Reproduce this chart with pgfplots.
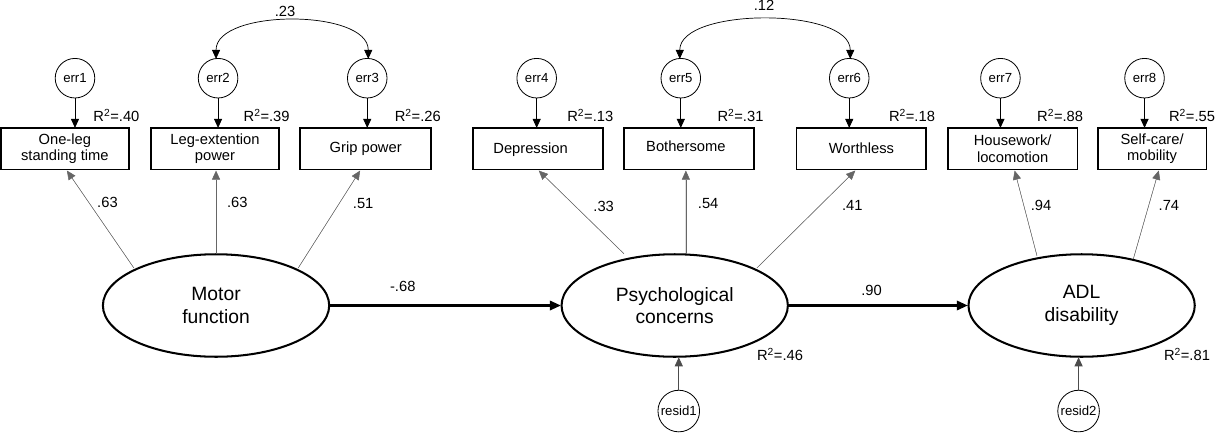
\documentclass[border=0pt]{standalone}
\usepackage{fontspec}
\setmainfont{Liberation Sans}
\usepackage{pgfplots}
\pgfplotsset{compat=1.18}
\usetikzlibrary{arrows.meta,shapes.geometric}
\tikzset{
  tip/.style={-{Triangle[length=9bp,width=8bp]}},
  box/.style={draw, line width=1.8bp, minimum height=41bp, inner sep=0pt, align=center, font=\fontsize{14.5bp}{16bp}\selectfont},
  lat/.style={draw, ellipse, line width=2bp, minimum width=223bp, minimum height=101bp, inner sep=0pt, align=center, font=\fontsize{19bp}{22bp}\selectfont},
  err/.style={draw, circle, line width=0.8bp, minimum size=39bp, inner sep=0pt, font=\fontsize{13bp}{14bp}\selectfont},
  lab/.style={font=\fontsize{14.5bp}{16bp}\selectfont, inner sep=0pt},
}
\newcommand{\Rsq}[1]{R\textsuperscript{2}=.#1}
\begin{document}
\begin{tikzpicture}
\begin{axis}[scale only axis, width=1215bp, height=437bp,
  xmin=0, xmax=1215, ymin=0, ymax=437, y dir=reverse, hide axis, clip=false]

% observed boxes
\node[box, minimum width=126bp] at (axis cs:75,157.5) {One-leg\\standing time};
\node[box, minimum width=126bp] at (axis cs:223,157.5) {Leg-extention\\power};
\node[box, minimum width=129bp] at (axis cs:371.5,157.5) {Grip power};
\node[box, minimum width=128bp] at (axis cs:541,157.5) {};
\node[lab, anchor=base] at (axis cs:534,162) {Depression};
\node[box, minimum width=128bp] at (axis cs:690,157.5) {};
\node[lab, anchor=base] at (axis cs:687,160) {Bothersome};
\node[box, minimum width=128bp] at (axis cs:860,157.5) {Worthless};
\node[box, minimum width=128bp] at (axis cs:1009,157.5) {Housework/\\locomotion};
\node[box, minimum width=107bp] at (axis cs:1146.5,157.5) {Self-care/\\mobility};

% latent variables
\node[lat] at (axis cs:224,312) {Motor\\function};
\node[lat] at (axis cs:676,312) {Psychological\\concerns};
\node[lat] at (axis cs:1077,312) {ADL\\disability};

% error terms
\node[err] at (axis cs:85,88) {err1};
\node[err] at (axis cs:226,88) {err2};
\node[err] at (axis cs:373,88) {err3};
\node[err] at (axis cs:540,88) {err4};
\node[err] at (axis cs:682,88) {err5};
\node[err] at (axis cs:848,88) {err6};
\node[err] at (axis cs:997,88) {err7};
\node[err] at (axis cs:1139,88) {err8};
\node[err, minimum size=41bp] at (axis cs:680,416) {resid1};
\node[err, minimum size=41bp] at (axis cs:1074,416) {resid2};

% error arrows
\addplot[tip, line width=0.8bp] coordinates {(85,108) (85,137)};
\addplot[tip, line width=0.8bp] coordinates {(226,108) (226,137)};
\addplot[tip, line width=0.8bp] coordinates {(373,108) (373,137)};
\addplot[tip, line width=0.8bp] coordinates {(540,108) (540,137)};
\addplot[tip, line width=0.8bp] coordinates {(682,108) (682,137)};
\addplot[tip, line width=0.8bp] coordinates {(848,108) (848,137)};
\addplot[tip, line width=0.8bp] coordinates {(997,108) (997,137)};
\addplot[tip, line width=0.8bp] coordinates {(1139,108) (1139,137)};
\addplot[tip, line width=0.8bp, draw=black!70, fill=black] coordinates {(680,396) (680,363)};
\addplot[tip, line width=0.8bp, draw=black!70, fill=black] coordinates {(1074,396) (1074,363)};

% loadings
\addplot[tip, line width=0.5bp, draw=black!60, fill=black] coordinates {(143,275) (77,179)};
\addplot[tip, line width=0.5bp, draw=black!60, fill=black] coordinates {(224,261) (224,179)};
\addplot[tip, line width=0.5bp, draw=black!60, fill=black] coordinates {(305,275) (366,179)};
\addplot[tip, line width=0.5bp, draw=black!60, fill=black] coordinates {(626,261) (542,179)};
\addplot[tip, line width=0.5bp, draw=black!60, fill=black] coordinates {(687,261) (687,179)};
\addplot[tip, line width=0.5bp, draw=black!60, fill=black] coordinates {(757,275) (854,179)};
\addplot[tip, line width=0.5bp, draw=black!60, fill=black] coordinates {(1033,263) (1011,179)};
\addplot[tip, line width=0.5bp, draw=black!60, fill=black] coordinates {(1128,266) (1153,179)};

% structural paths
\addplot[-{Triangle[length=11bp,width=9bp]}, line width=2.8bp] coordinates {(336,312) (564,312)};
\addplot[-{Triangle[length=11bp,width=9bp]}, line width=2.8bp] coordinates {(788,312) (965,312)};

% covariances
\draw[{Triangle[length=9bp,width=8bp]}-{Triangle[length=9bp,width=8bp]}, line width=0.7bp]
  (axis cs:224,69) .. controls (axis cs:224,19.5) and (axis cs:374,19.5) .. (axis cs:374,69);
\draw[{Triangle[length=9bp,width=8bp]}-{Triangle[length=9bp,width=8bp]}, line width=0.7bp]
  (axis cs:681,69) .. controls (axis cs:681,18) and (axis cs:849,18) .. (axis cs:849,69);

% coefficient labels
\node[lab] at (axis cs:292,22) {.23};
\node[lab] at (axis cs:764,16) {.12};
\node[lab] at (axis cs:117,210) {.63};
\node[lab] at (axis cs:245,210) {.63};
\node[lab] at (axis cs:369,211) {.51};
\node[lab] at (axis cs:606,214) {.33};
\node[lab] at (axis cs:709,211) {.54};
\node[lab] at (axis cs:851,213) {.41};
\node[lab] at (axis cs:1037,213) {.94};
\node[lab] at (axis cs:1163,213) {.74};
\node[lab] at (axis cs:408,293) {-.68};
\node[lab] at (axis cs:870,297) {.90};

% R-squared
\node[lab, anchor=base west] at (axis cs:103,131) {\Rsq{40}};
\node[lab, anchor=base west] at (axis cs:251,131) {\Rsq{39}};
\node[lab, anchor=base west] at (axis cs:400,131) {\Rsq{26}};
\node[lab, anchor=base west] at (axis cs:570,131) {\Rsq{13}};
\node[lab, anchor=base west] at (axis cs:718,131) {\Rsq{31}};
\node[lab, anchor=base west] at (axis cs:887,131) {\Rsq{18}};
\node[lab, anchor=base west] at (axis cs:1033,131) {\Rsq{88}};
\node[lab, anchor=base west] at (axis cs:1163,131) {\Rsq{55}};
\node[lab, anchor=base west] at (axis cs:757,366) {\Rsq{46}};
\node[lab, anchor=base west] at (axis cs:1158,366) {\Rsq{81}};
\end{axis}
\end{tikzpicture}
\end{document}
